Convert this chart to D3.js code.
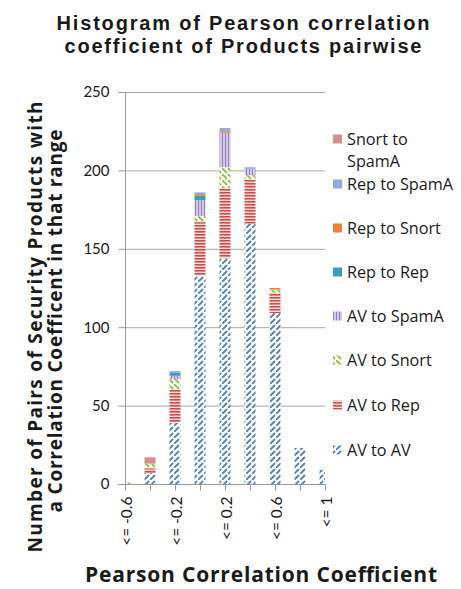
<!DOCTYPE html>
<html>
<head>
<meta charset="utf-8">
<script src="https://cdn.jsdelivr.net/npm/d3@7"></script>
<style>
  html, body { margin: 0; padding: 0; background: #ffffff; }
  svg { display: block; }
  text { font-family: "Open Sans", Lato, "Liberation Sans", sans-serif; fill: #1a1a1a; }
</style>
</head>
<body>
<svg id="chart" width="461" height="589"></svg>
<script>
// ---- data ----
const categories = ["<= -0.6", "<= -0.4", "<= -0.2", "<= 0", "<= 0.2", "<= 0.4", "<= 0.6", "<= 0.8", "<= 1"];
const shownLabels = ["<= -0.6", "<= -0.2", "<= 0.2", "<= 0.6", "<= 1"];
const seriesNames = ["AV to AV", "AV to Rep", "AV to Snort", "AV to SpamA", "Rep to Rep", "Rep to Snort", "Rep to SpamA", "Snort to SpamA"];
const avToAv       = [0, 7, 39, 133, 144, 166, 109, 23, 9];
const avToRep      = [0, 3, 21, 34, 45, 28, 13, 0, 0];
const avToSnort    = [1, 3, 7, 4, 13, 3, 2, 0, 0];
const avToSpamA    = [0, 0, 2, 10, 22, 4, 0, 0, 0];
const repToRep     = [0, 0, 2, 3, 0, 0, 0, 0, 0];
const repToSnort   = [0, 0, 0, 1, 1, 0, 1, 0, 0];
const repToSpamA   = [0, 0, 1, 1, 2, 1, 0, 0, 0];
const snortToSpamA = [0, 4, 0, 0, 0, 0, 0, 0, 0];
const yTicks = [0, 50, 100, 150, 200, 250];
const titleLines = ["Histogram of Pearson correlation", "coefficient of Products pairwise"];
const yTitleLines = ["Number of Pairs of Security Products with", "a Correlation Coefficent in that range"];
const xTitle = "Pearson Correlation Coefficient";

const seriesValues = [avToAv, avToRep, avToSnort, avToSpamA, repToRep, repToSnort, repToSpamA, snortToSpamA];

// ---- layout ----
const svg = d3.select("#chart");
const plot = { left: 125, right: 325, top: 92, bottom: 484 };
const x = d3.scalePoint().domain(categories).range([plot.left, plot.right]);
const y = d3.scaleLinear().domain([0, 250]).range([plot.bottom, plot.top]);
const barW = 11;

const defs = svg.append("defs");
function pat(id, w, h, build) {
  const p = defs.append("pattern").attr("id", id).attr("patternUnits", "userSpaceOnUse")
    .attr("width", w).attr("height", h);
  build(p);
}
pat("p-avav", 6, 6, p => {
  p.append("rect").attr("width", 6).attr("height", 6).attr("fill", "#ffffff");
  p.append("path").attr("d", "M0.5,5.5 L4.5,1.5").attr("stroke", "#4a7ebf").attr("stroke-width", 1.8).attr("stroke-linecap", "round");
});
pat("p-avrep", 4, 3, p => {
  p.append("rect").attr("width", 4).attr("height", 3).attr("fill", "#f6dede");
  p.append("rect").attr("width", 4).attr("height", 1.6).attr("fill", "#d24a47");
});
pat("p-avsnort", 6, 6, p => {
  p.append("rect").attr("width", 6).attr("height", 6).attr("fill", "#ffffff");
  p.append("path").attr("d", "M0.5,0.5 L4.5,4.5").attr("stroke", "#8cbf3f").attr("stroke-width", 1.8).attr("stroke-linecap", "round");
});
pat("p-avspam", 3, 4, p => {
  p.append("rect").attr("width", 3).attr("height", 4).attr("fill", "#d3c8e6");
  p.append("rect").attr("width", 1).attr("height", 4).attr("fill", "#9580c0");
});
const fills = ["url(#p-avav)", "url(#p-avrep)", "url(#p-avsnort)", "url(#p-avspam)", "#3d9cb3", "#e8833a", "#8faadc", "#d98e8e"];

defs.append("clipPath").attr("id", "plotclip").append("rect")
  .attr("x", plot.left).attr("y", plot.top - 5).attr("width", plot.right - plot.left).attr("height", plot.bottom - plot.top + 5);

// gridlines
svg.append("g").selectAll("line").data(yTicks.filter(d => d > 0)).join("line")
  .attr("x1", plot.left).attr("x2", plot.right)
  .attr("y1", d => y(d) + 0.5).attr("y2", d => y(d) + 0.5)
  .attr("stroke", "#a8a8a8").attr("stroke-width", 1);

// stacked bars
const table = categories.map((c, i) => {
  const row = { cat: c };
  seriesNames.forEach((s, k) => row[s] = seriesValues[k][i]);
  return row;
});
const stacked = d3.stack().keys(seriesNames)(table);
const barsG = svg.append("g").attr("clip-path", "url(#plotclip)");
stacked.forEach((layer, k) => {
  barsG.append("g").selectAll("rect").data(layer.filter(d => d[1] - d[0] > 0)).join("rect")
    .attr("x", d => x(d.data.cat) - barW / 2)
    .attr("width", barW)
    .attr("y", d => y(d[1]))
    .attr("height", d => y(d[0]) - y(d[1]))
    .attr("fill", fills[k]);
});

// axes
const yAxis = d3.axisLeft(y).tickValues(yTicks).tickSize(7).tickPadding(9);
const gy = svg.append("g").attr("transform", `translate(${plot.left + 0.5},0)`).call(yAxis);
gy.select(".domain").attr("stroke", "#9a9a9a").attr("d", `M-7,${plot.bottom + 0.5}H0V${plot.top}`);
gy.selectAll(".tick line").attr("stroke", "#9a9a9a");
gy.selectAll(".tick text").attr("font-size", 15).attr("fill", "#222")
  .style("font-family", "Lato, 'Open Sans', sans-serif");

const xAxis = d3.axisBottom(x).tickSize(6).tickFormat(d => shownLabels.includes(d) ? d : "");
const gx = svg.append("g").attr("transform", `translate(0,${plot.bottom + 0.5})`).call(xAxis);
gx.select(".domain").attr("stroke", "#9a9a9a").attr("d", `M${plot.left},0H${plot.right + 0.5}`);
gx.selectAll(".tick line").attr("stroke", "#9a9a9a");
gx.selectAll(".tick text")
  .attr("font-size", 15.5).attr("fill", "#222")
  .style("font-family", "Lato, 'Open Sans', sans-serif")
  .attr("text-anchor", "end")
  .attr("dy", null)
  .attr("dominant-baseline", "central")
  .attr("transform", "translate(0,12) rotate(-90)")
  .attr("x", 0).attr("y", 0);

// multi-line text block: one <text>, tspans letter-spaced to reach target widths
function block(parent, lines, targets, size, lineGap, xOffsets, family) {
  const t = parent.append("text").attr("text-anchor", "middle")
    .attr("font-weight", "bold").attr("font-size", size).attr("fill", "#1f1f1f");
  if (family) t.style("font-family", family);
  lines.forEach((ln, i) => {
    const ts = t.append("tspan").attr("x", xOffsets[i]).attr("y", i * lineGap).text(ln);
    const w = ts.node().getComputedTextLength();
    const ls = (targets[i] - w) / (ln.length - 1);
    if (ls > 0) ts.attr("letter-spacing", ls.toFixed(2)).attr("dx", (ls / 2).toFixed(2));
  });
  return t;
}

// title
block(svg.append("g").attr("transform", "translate(243,30)"), titleLines, [373, 357], 20, 23, [0, 0],
  "'Liberation Sans', Arial, sans-serif");

// y title (second line centred slightly higher)
block(svg.append("g").attr("transform", "translate(42,327) rotate(-90)"), yTitleLines, [451, 383], 19, 20, [0, 6]);

// x title
svg.append("text").attr("x", 261).attr("y", 582).attr("text-anchor", "middle")
  .attr("font-weight", "bold").attr("font-size", 21).attr("fill", "#1f1f1f")
  .attr("textLength", 352).attr("lengthAdjust", "spacing").text(xTitle);

// legend (top to bottom = reverse of stacking)
const legendItems = seriesNames.map((s, k) => ({ name: s, fill: fills[k] })).reverse();
const legendY = [139, 184, 228, 272, 316, 360, 405, 450];
const lg = svg.append("g");
const legendFont = 16.2;
legendItems.forEach((it, i) => {
  const cy = legendY[i];
  lg.append("rect").attr("x", 333).attr("y", cy - 4.5).attr("width", 9).attr("height", 9).attr("fill", it.fill);
  if (it.name === "Snort to SpamA") {
    const t = lg.append("text").attr("font-size", legendFont);
    t.append("tspan").attr("x", 347).attr("y", cy + 5.5).text("Snort to");
    t.append("tspan").attr("x", 347).attr("y", cy + 27.5).text("SpamA");
  } else {
    lg.append("text").attr("x", 347).attr("y", cy + 5.5).attr("font-size", legendFont).text(it.name);
  }
});
</script>
</body>
</html>
